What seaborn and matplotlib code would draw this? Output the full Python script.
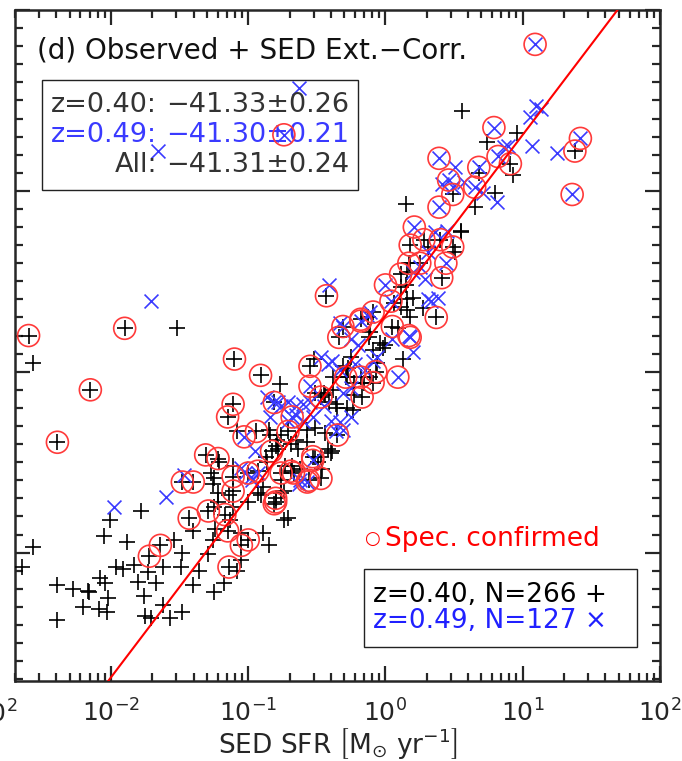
import numpy as np
import pandas as pd
import matplotlib
matplotlib.use("Agg")
import matplotlib.pyplot as plt
import seaborn as sns
from matplotlib.ticker import MultipleLocator
from matplotlib.patches import Rectangle

# z=0.40 sample (black +): log10 SED SFR, log10 L(Halpha), spectroscopically confirmed
z40_logsfr = [-2.60, -2.57, -1.90, -1.52, -2.15, -2.39, -2.57, -2.65, -2.39, -2.28,
              -2.16, -2.17, -2.20, -2.09, -2.03, -2.39, -2.08, -2.04, -2.02, -2.05,
              -2.01, -1.78, -1.88, -1.96, -1.91, -1.83, -1.80, -1.76, -1.73, -1.67,
              -1.62, -1.72, -1.64, -1.54, -1.48, -1.49, -1.40, -1.62, -1.75, -1.71,
              -1.57, -1.48, -1.36, -1.29, -1.25, -1.18, -1.43, -1.40, -1.29, -1.24,
              -1.26, -1.22, -1.22, -1.27, -1.21, -1.48, -1.40, -1.17, -1.13, -1.15,
              -1.11, -1.00, -1.05, -1.00, -1.05, -1.05, -1.08, -1.14, -0.89, -0.85,
              -0.80, -0.74, -0.74, -0.93, -1.11, -0.69, -0.56, -0.47, -0.40, -1.31,
              -1.22, -1.11, -0.93, -1.00, -1.14, -0.91, -1.25, -1.26, -1.25, -1.11,
              -0.71, -0.81, -0.76, -0.76, -0.67, -0.68, -0.46, -0.42, -0.39, -0.51,
              -0.47, -0.57, -0.51, -0.44, -0.35, -0.71, -0.69, -0.65, -0.79, -0.76,
              -0.80, -0.83, -0.87, -0.86, -0.73, -0.78, -0.64, -0.57, -0.53, -0.49,
              -0.62, -0.76, -0.80, -0.89, -0.84, -0.94, -1.08, -0.85, -1.11, -1.15,
              -0.91, -0.77, -1.10, -0.81, -0.55, -0.52, -0.47, -0.41, -0.51, -0.44,
              -0.38, -0.36, -0.35, -0.28, -0.24, -0.17, -0.23, -0.45, -0.43, -0.31,
              -0.34, -0.18, -0.13, -0.11, -0.04, -0.02, -0.06, 0.11, 0.17, 0.25,
              0.41, 0.51, 0.05, 0.09, 0.37, 0.13, 0.06, 0.11, 0.16, 0.18,
              0.27, -0.09, -0.29, -0.27, -0.09, -0.09, -0.12, 0.00, -0.31, -0.25,
              -0.07, -0.18, -0.16, -0.11, -0.38, -0.28, -0.23, 0.11, 0.15, 0.16,
              0.20, 0.16, 0.18, 0.28, 0.31, 0.49, 0.55, 0.40, 0.18, 0.56,
              0.96, 0.74, 1.38, 0.91, 0.93, 0.68, 0.49, 0.80, 0.65, 0.15,
              0.55]
z40_logl = [41.20, 41.05, 41.24, 41.24, 40.90, 40.61, 40.03, 39.92, 39.82, 39.80,
            39.78, 39.79, 39.70, 39.69, 39.67, 39.63, 39.86, 39.83, 39.75, 40.09,
            40.18, 40.23, 40.06, 39.92, 39.91, 39.93, 39.84, 39.76, 39.89, 39.83,
            39.92, 39.98, 40.04, 40.07, 40.00, 39.92, 39.82, 39.71, 39.65, 39.64,
            39.64, 39.67, 39.90, 39.99, 39.78, 39.83, 40.19, 40.12, 40.23, 40.13,
            40.07, 40.33, 40.28, 40.44, 40.50, 40.39, 40.39, 40.21, 40.18, 40.12,
            40.34, 40.28, 40.04, 40.07, 40.11, 39.96, 39.90, 39.92, 40.11, 40.04,
            40.28, 40.18, 40.34, 40.33, 40.42, 40.45, 40.40, 40.41, 40.55, 40.54,
            40.52, 40.48, 40.45, 40.44, 40.32, 40.32, 40.41, 40.38, 40.25, 40.25,
            40.19, 40.27, 40.33, 40.44, 40.44, 40.48, 40.46, 40.57, 40.56, 40.53,
            40.53, 40.68, 40.69, 40.66, 40.65, 40.67, 40.60, 40.62, 40.62, 40.65,
            40.59, 40.56, 40.53, 40.50, 40.48, 40.57, 40.57, 40.61, 40.53, 40.50,
            40.46, 40.40, 40.30, 40.36, 40.65, 40.67, 40.67, 40.68, 40.82, 40.75,
            40.98, 40.93, 41.07, 40.83, 41.03, 41.07, 40.86, 40.83, 40.88, 40.87,
            40.90, 40.82, 40.80, 40.80, 40.79, 40.86, 40.87, 40.88, 41.42, 41.25,
            41.19, 41.29, 41.30, 41.22, 41.16, 41.13, 41.05, 41.54, 41.60, 41.60,
            41.52, 41.66, 41.25, 41.24, 41.30, 41.07, 41.38, 41.36, 41.34, 41.30,
            41.35, 41.12, 40.97, 41.02, 40.94, 41.33, 41.19, 41.15, 41.03, 41.08,
            41.00, 40.97, 40.94, 40.97, 40.97, 40.97, 40.94, 41.47, 41.48, 41.40,
            41.41, 41.55, 41.70, 41.73, 41.69, 41.69, 41.77, 41.73, 41.60, 42.44,
            42.32, 42.27, 42.22, 42.15, 42.09, 42.10, 41.98, 41.99, 41.91, 41.93,
            41.78]
z40_spec = [1, 0, 1, 0, 1, 1, 0, 0, 0, 0,
            0, 0, 0, 0, 0, 0, 0, 0, 0, 0,
            0, 0, 0, 0, 0, 0, 0, 0, 0, 0,
            0, 1, 1, 0, 0, 0, 0, 0, 0, 0,
            0, 0, 0, 0, 0, 0, 1, 0, 1, 0,
            0, 0, 0, 0, 0, 1, 1, 1, 0, 1,
            1, 0, 1, 1, 0, 0, 0, 1, 0, 0,
            1, 0, 0, 0, 1, 1, 1, 1, 0, 1,
            1, 0, 1, 1, 0, 0, 0, 0, 0, 0,
            0, 1, 0, 1, 1, 0, 0, 0, 0, 0,
            0, 0, 0, 0, 1, 1, 0, 0, 0, 0,
            0, 1, 0, 0, 0, 0, 0, 0, 1, 0,
            0, 0, 1, 0, 0, 1, 0, 0, 1, 1,
            1, 0, 1, 0, 1, 0, 1, 0, 0, 0,
            0, 0, 0, 0, 0, 1, 0, 0, 1, 1,
            1, 1, 0, 0, 0, 0, 0, 1, 1, 1,
            1, 0, 1, 0, 1, 0, 0, 0, 0, 0,
            0, 0, 1, 0, 1, 1, 0, 0, 0, 0,
            1, 1, 0, 0, 0, 0, 0, 0, 0, 0,
            0, 0, 1, 1, 0, 1, 0, 1, 0, 0,
            0, 0, 1, 1, 0, 0, 1, 0, 0, 0,
            0]

# z=0.49 sample (blue x)
z49_logsfr = [1.09, 1.10, 1.05, 1.13, 0.79, 0.89, 0.86, 1.07, 1.25, 1.42,
              0.39, 0.51, 0.82, 0.68, 0.46, 0.41, 0.57, 0.49, 0.65, 0.71,
              0.81, 1.36, 0.39, 0.21, 0.45, 0.36, 0.31, 0.44, 0.20, -0.63,
              -0.74, -1.66, -1.71, -0.41, 0.00, 0.29, 0.38, 0.31, 0.04, 0.17,
              -0.13, -0.18, -0.33, -0.31, -0.25, -0.20, 0.05, 0.20, -0.47, -0.39,
              -0.42, -0.15, -0.09, -0.06, -0.22, 0.09, -0.33, -0.55, -0.25, -0.31,
              -0.11, 0.18, 0.33, 0.25, -1.03, -0.81, -0.86, -0.78, -0.84, -0.76,
              -0.71, -0.65, -0.60, -0.68, -0.71, -0.65, -0.60, -0.53, -0.45, -0.55,
              -0.40, -0.33, -0.36, -0.25, -0.31, -0.95, -1.05, -1.02, -0.98, -0.97,
              -0.93, -0.63, -0.57, -0.62, -0.53, -1.47, -1.60, -1.98]
z49_logl = [42.81, 42.47, 42.41, 42.45, 42.35, 42.25, 42.24, 42.25, 42.21, 42.29,
            42.18, 42.13, 42.19, 42.13, 42.06, 42.04, 42.05, 42.02, 42.02, 41.99,
            41.94, 41.98, 41.91, 41.80, 41.78, 41.77, 41.66, 41.60, 41.55, 42.57,
            42.31, 42.22, 41.39, 41.48, 41.48, 41.51, 41.41, 41.40, 41.39, 41.20,
            41.31, 41.28, 41.27, 41.25, 41.18, 41.15, 41.18, 41.11, 41.08, 41.06,
            41.04, 41.01, 41.06, 41.08, 41.04, 40.97, 41.01, 40.92, 40.91, 40.88,
            41.33, 41.19, 41.39, 41.58, 40.64, 40.83, 40.86, 40.83, 40.75, 40.81,
            40.83, 40.81, 40.82, 40.75, 40.73, 40.76, 40.73, 40.75, 40.81, 40.83,
            40.73, 40.72, 40.67, 40.75, 40.68, 40.56, 40.47, 40.44, 40.42, 40.40,
            40.44, 40.38, 40.39, 40.40, 40.51, 40.43, 40.31, 40.25]
z49_spec = [1, 0, 0, 0, 1, 0, 0, 0, 0, 1,
            1, 0, 1, 1, 1, 0, 0, 0, 1, 0,
            0, 1, 1, 1, 0, 0, 0, 1, 0, 0,
            1, 0, 0, 0, 1, 0, 0, 0, 1, 1,
            0, 1, 0, 0, 0, 0, 0, 0, 0, 0,
            0, 0, 0, 0, 0, 1, 0, 1, 0, 0,
            0, 1, 0, 0, 1, 1, 0, 0, 0, 0,
            0, 0, 0, 1, 0, 0, 0, 0, 0, 0,
            0, 0, 0, 0, 0, 0, 0, 0, 0, 0,
            0, 0, 1, 0, 1, 0, 0, 0]

fit_offset = 41.31
stats_names = ["z=0.40:", "z=0.49:", "All:"]
stats_values = ["\u221241.33\u00b10.26", "\u221241.30\u00b10.21", "\u221241.31\u00b10.24"]
sample_n = [266, 127]

z40 = pd.DataFrame({"sfr": 10 ** np.array(z40_logsfr), "logl": z40_logl, "spec": z40_spec})
z49 = pd.DataFrame({"sfr": 10 ** np.array(z49_logsfr), "logl": z49_logl, "spec": z49_spec})
spec = pd.concat([z40[z40["spec"] == 1], z49[z49["spec"] == 1]])

sns.set_style("ticks")
plt.rcParams["font.family"] = ["DejaVu Sans"]
plt.rcParams["mathtext.fontset"] = "dejavusans"
plt.rcParams["mathtext.default"] = "regular"

fig = plt.figure(figsize=(6.82, 7.61), dpi=100)
ax = fig.add_axes([15 / 682, 80 / 761, 645 / 682, 671 / 761])

sns.scatterplot(data=z40, x="sfr", y="logl", marker="+", s=140, color="black",
                linewidth=1.2, ax=ax, zorder=3)
sns.scatterplot(data=z49, x="sfr", y="logl", marker="x", s=100, color="#3a3aff",
                linewidth=1.2, ax=ax, zorder=3)
sns.scatterplot(data=spec, x="sfr", y="logl", marker="o", s=250, color="#ff3a3a",
                linewidth=1.2, ax=ax, zorder=4)
circles = ax.collections[-1]
circles.set_facecolor("none")
circles.set_edgecolor("#ff3a3a")

line_sfr = np.array([1e-3, 1e2])
sns.lineplot(x=line_sfr, y=np.log10(line_sfr) + fit_offset, color="red",
             linewidth=1.5, ax=ax, zorder=5)

ax.set_xscale("log")
ax.set_xlim(2e-3, 100)
ax.set_ylim(39.29, 43.0)
ax.yaxis.set_major_locator(MultipleLocator(1))
ax.yaxis.set_minor_locator(MultipleLocator(0.1))
ax.tick_params(which="both", direction="in", top=True, right=True, width=1.6,
               labelleft=False, labelsize=18, pad=13)
ax.tick_params(which="major", length=11)
ax.tick_params(which="minor", length=5.5)
for sp in ax.spines.values():
    sp.set_linewidth(1.8)
ax.set_xlabel(r"SED SFR $\left[M_{\odot}\ yr^{-1}\right]$", fontsize=19, labelpad=0)
ax.set_ylabel("")

ax.text(0.034, 0.94, "(d) Observed + SED Ext.\u2212Corr.", transform=ax.transAxes,
        fontsize=20, va="center", ha="left", color="#111111")

ax.add_patch(Rectangle((0.042, 0.732), 0.49, 0.164, transform=ax.transAxes,
                       facecolor="none", edgecolor="#222222", linewidth=1.0, zorder=2))
stat_colors = ["#333333", "#3a3aff", "#333333"]
for i, (nm, val) in enumerate(zip(stats_names, stats_values)):
    ax.text(0.220, 0.859 - i * 0.045, nm, transform=ax.transAxes, fontsize=19.5,
            ha="right", va="center", color=stat_colors[i])
    ax.text(0.234, 0.859 - i * 0.045, val, transform=ax.transAxes, fontsize=19.5,
            ha="left", va="center", color=stat_colors[i])

ax.text(0.5535, 0.212, "\u25cb", transform=ax.transAxes, fontsize=13,
        ha="center", va="center", color="red")
ax.text(0.573, 0.212, "Spec. confirmed", transform=ax.transAxes, fontsize=19,
        ha="left", va="center", color="red")
ax.add_patch(Rectangle((0.541, 0.0507), 0.423, 0.116, transform=ax.transAxes,
                       facecolor="white", edgecolor="#222222", linewidth=1.0, zorder=6))
ax.text(0.555, 0.128, f"z=0.40, N={sample_n[0]} +", transform=ax.transAxes,
        fontsize=19, ha="left", va="center", color="black", zorder=7)
ax.text(0.555, 0.089, f"z=0.49, N={sample_n[1]} \u00d7", transform=ax.transAxes,
        fontsize=19, ha="left", va="center", color="#2020ff", zorder=7)

# tail of the neighbouring panel's last tick label
fig.text(17 / 682, 1 - 714 / 761, "10$^2$", fontsize=18, ha="right", va="center")

fig.savefig("out.png", dpi=100)
